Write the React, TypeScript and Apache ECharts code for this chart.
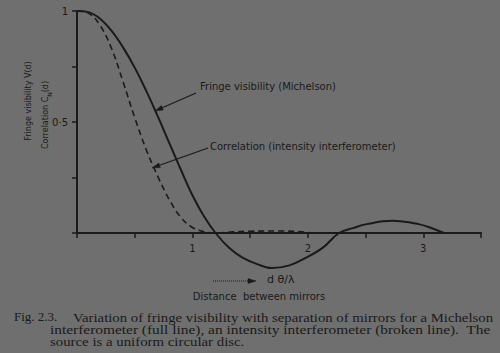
import React, { useEffect, useRef } from "react";
import * as echarts from "echarts";

// Fringe visibility V(d) (Michelson)
const michelsonX = [0, 0.1, 0.2, 0.3, 0.4, 0.5, 0.6, 0.7, 0.8, 0.9, 1.0, 1.1, 1.2, 1.32, 1.43, 1.56, 1.69, 1.84, 1.99, 2.13, 2.27, 2.39, 2.51, 2.73, 2.96, 3.08, 3.18];
const michelsonV = [1, 0.995, 0.965, 0.91, 0.835, 0.745, 0.64, 0.525, 0.405, 0.285, 0.17, 0.075, 0, -0.068, -0.11, -0.14, -0.158, -0.146, -0.11, -0.066, 0, 0.022, 0.04, 0.055, 0.04, 0.02, 0];

// Correlation C_N(d) (intensity interferometer)
const correlationX = [0, 0.1, 0.2, 0.3, 0.4, 0.5, 0.6, 0.7, 0.8, 0.9, 1.0, 1.1, 1.2, 1.35, 1.5, 1.75, 1.95, 2.04];
const correlationC = [1, 0.99, 0.935, 0.83, 0.68, 0.52, 0.375, 0.255, 0.15, 0.07, 0.025, 0.006, 0, 0.005, 0.008, 0.009, 0.005, 0];

const xLabeled = [1, 2, 3];
const yLabelValues = [0.5, 1];
const yLabelTexts = ["0·5", "1"];

const captionLines = [
  "Variation of fringe visibility with separation of mirrors for a Michelson",
  "interferometer (full line), an intensity interferometer (broken line).  The",
  "source is a uniform circular disc.",
];

const ink = "#1a1a1a";
const bg = "#6f6f6f";
const sans = "DejaVu Sans";
const serif = "Liberation Serif";

function arrowHead(tail: number[], tip: number[], len: number, half: number) {
  const dx = tip[0] - tail[0];
  const dy = tip[1] - tail[1];
  const d = Math.hypot(dx, dy);
  const ux = dx / d;
  const uy = dy / d;
  const bx = tip[0] - ux * len;
  const by = tip[1] - uy * len;
  return [
    [tip[0], tip[1]],
    [bx - uy * half, by + ux * half],
    [bx + uy * half, by - ux * half],
  ];
}

function arrow(tail: number[], tip: number[], dashed = false) {
  const head = arrowHead(tail, tip, 8, 2.4);
  const base = [(head[1][0] + head[2][0]) / 2, (head[1][1] + head[2][1]) / 2];
  return [
    {
      type: "line",
      shape: { x1: tail[0], y1: tail[1], x2: base[0], y2: base[1] },
      style: { stroke: ink, lineWidth: 1.2, lineDash: dashed ? [1, 1] : null },
      z: 10,
    },
    {
      type: "polygon",
      shape: { points: head },
      style: { fill: ink, stroke: ink, lineWidth: 0.5 },
      z: 10,
    },
  ];
}

function txt(x: number, y: number, text: string, font: string, align = "left", extra: any = {}) {
  return {
    type: "text",
    x,
    y,
    z: 10,
    ...extra,
    style: {
      text,
      fill: ink,
      font,
      align,
      textAlign: align,
      verticalAlign: "middle",
      textVerticalAlign: "middle",
    },
  };
}

export default function App() {
  const ref = useRef<HTMLDivElement>(null);
  useEffect(() => {
    document.body.style.margin = "0";
    document.body.style.background = bg;
    const chart = echarts.init(ref.current!, null, { renderer: "svg" });
    chart.setOption({
      animation: false,
      backgroundColor: bg,
      grid: { left: 77, right: 19, top: 11, bottom: 120 },
      xAxis: {
        type: "value",
        min: 0,
        max: 3.5,
        interval: 0.5,
        splitLine: { show: false },
        axisLine: { lineStyle: { color: ink, width: 2 } },
        axisTick: { length: 5, lineStyle: { color: ink, width: 1.5 } },
        axisLabel: {
          color: ink,
          fontFamily: sans,
          fontSize: 10,
          margin: 10,
          formatter: (v: number) => (xLabeled.includes(v) ? String(v) : ""),
        },
      },
      yAxis: {
        type: "value",
        min: 0,
        max: 1,
        interval: 0.25,
        splitLine: { show: false },
        axisLine: { show: true, lineStyle: { color: ink, width: 2 } },
        axisTick: { show: true, length: 5, lineStyle: { color: ink, width: 1.5 } },
        axisLabel: {
          color: ink,
          fontFamily: sans,
          fontSize: 10,
          margin: 9,
          formatter: (v: number) => {
            const i = yLabelValues.indexOf(v);
            return i >= 0 ? yLabelTexts[i] : "";
          },
        },
      },
      series: [
        {
          type: "line",
          data: michelsonX.map((x, i) => [x, michelsonV[i]]),
          showSymbol: false,
          smooth: 0.4,
          clip: false,
          lineStyle: { color: ink, width: 2 },
        },
        {
          type: "line",
          data: correlationX.map((x, i) => [x, correlationC[i]]),
          showSymbol: false,
          smooth: 0.4,
          clip: false,
          lineStyle: { color: ink, width: 1.6, type: [6, 4] },
        },
      ],
      graphic: [
        txt(200, 86, "Fringe visibility (Michelson)", `10px ${sans}`),
        ...arrow([196, 93], [155, 111]),
        txt(210, 146, "Correlation (intensity interferometer)", `10px ${sans}`),
        ...arrow([208, 148], [152, 168]),
        txt(28, 101, "Fringe visibility V(d)", `8px ${sans}`, "center", { rotation: Math.PI / 2 }),
        {
          type: "text",
          x: 45,
          y: 115,
          rotation: Math.PI / 2,
          z: 10,
          style: {
            text: "Correlation C{sub|N}(d)",
            fill: ink,
            font: `8px ${sans}`,
            align: "center",
            textAlign: "center",
            verticalAlign: "middle",
            textVerticalAlign: "middle",
            lineHeight: 14,
            rich: {
              sub: { fontSize: 6, fontFamily: sans, fill: ink, verticalAlign: "bottom", lineHeight: 6 },
            },
          },
        },
        ...arrow([213, 281], [256, 281], true),
        txt(267, 279, "d θ/λ", `11px ${sans}`),
        txt(259, 296, "Distance  between mirrors", `10px ${sans}`, "center"),
        txt(14, 317, "Fig. 2.3.", `11.5px ${serif}`, "left", { scaleX: 1.13 }),
        txt(73, 318, captionLines[0], `11.5px ${serif}`, "left", { scaleX: 1.285 }),
        txt(50, 330, captionLines[1], `11.5px ${serif}`, "left", { scaleX: 1.34 }),
        txt(50, 342, captionLines[2], `11.5px ${serif}`, "left", { scaleX: 1.29 }),
      ],
    });
    return () => chart.dispose();
  }, []);
  return <div ref={ref} style={{ position: "fixed", left: 0, top: 0, width: 500, height: 353 }} />;
}
